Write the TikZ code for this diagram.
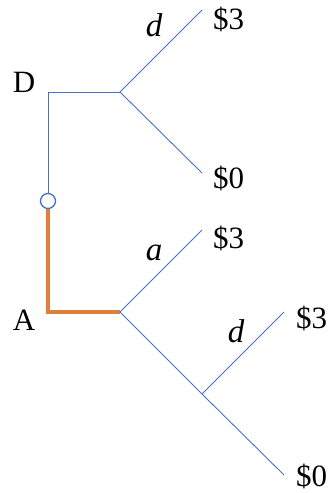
\documentclass[tikz,border=0pt]{standalone}
\usepackage{fontspec}
\setmainfont{Liberation Serif}
\definecolor{tblue}{HTML}{4472C4}
\definecolor{torange}{HTML}{E07E3C}
\begin{document}
\begin{tikzpicture}[x=1pt,y=-1pt,
  branch/.style={draw=tblue,line width=0.9pt},
  chosen/.style={draw=torange,line width=3.4pt},
  lbl/.style={inner sep=0pt,font=\fontsize{31}{32}\selectfont},
  act/.style={inner sep=0pt,font=\fontsize{33}{34}\selectfont\itshape}]
\useasboundingbox (0,0) rectangle (328,493);
% coordinates
\coordinate (Dn) at (48,92);
\coordinate (Dj) at (120,92);
\coordinate (Dt) at (202,10);
\coordinate (Db) at (202,173);
\node[circle,draw=tblue,line width=1.3pt,minimum size=15pt,inner sep=0pt] (c) at (48,201) {};
\coordinate (An) at (48,312);
\coordinate (Aj) at (120,312);
\coordinate (At) at (202,230);
\coordinate (Bj) at (202,394);
\coordinate (Bt) at (284,312);
\coordinate (Bb) at (284,475);
% edges
\draw[branch] (c.north) -- (Dn) -- (Dj);
\draw[branch] (Dt) -- (Dj) -- (Db);
\draw[chosen,line join=miter] (c.south) -- (An) -- (Aj);
\draw[branch] (At) -- (Aj) -- (Bj) -- (Bb);
\draw[branch] (Bj) -- (Bt);
% labels
\node[lbl,anchor=base] (lD) at (24,92) {D};
\node[lbl,anchor=base] (lA) at (24,330) {A};
\node[act,anchor=base] (l1) at (154,36) {d};
\node[act,anchor=base] (l2) at (154,260) {a};
\node[act,anchor=base] (l3) at (236,342) {d};
\node[lbl,anchor=base west] (p1) at (213,29) {\$3};
\node[lbl,anchor=base west] (p2) at (213,188) {\$0};
\node[lbl,anchor=base west] (p3) at (213,248) {\$3};
\node[lbl,anchor=base west] (p4) at (296,328) {\$3};
\node[lbl,anchor=base west] (p5) at (296,486) {\$0};
\end{tikzpicture}
\end{document}
